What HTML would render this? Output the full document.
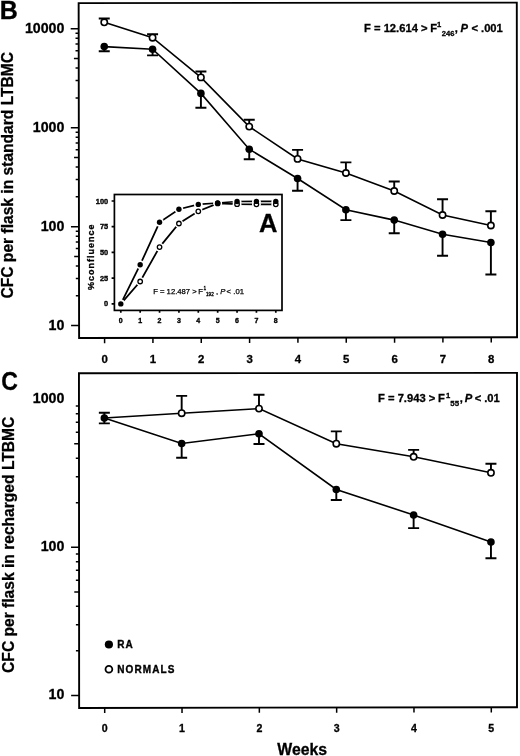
<!DOCTYPE html>
<html><head><meta charset="utf-8"><style>
html,body{margin:0;padding:0;background:#fff;}
svg{display:block;filter:grayscale(1) blur(0.3px);}
text{font-family:"Liberation Sans", sans-serif;fill:#000;stroke:#000;stroke-width:0.3px;}
</style></head><body>
<svg width="520" height="756" viewBox="0 0 520 756">
<rect width="520" height="756" fill="#fff"/>
<path d="M78.65 3.1L516.8 2.6L517.05 337.2L79.1 338.05Z" fill="none" stroke="#000" stroke-width="1.9" stroke-linejoin="miter"/>
<path d="M78.95 373.25L517.0 372.9L517.0 707.2L79.15 707.95Z" fill="none" stroke="#000" stroke-width="1.9" stroke-linejoin="miter"/>
<path d="M71.08 325.61H79.08 M75.84 295.82H79.04 M75.82 278.39H79.02 M75.80 266.02H79.00 M74.19 256.43H78.99 M75.78 248.60H78.98 M75.77 241.97H78.97 M75.76 236.23H78.96 M75.76 231.17H78.96 M70.95 226.64H78.95 M75.71 196.85H78.91 M75.69 179.42H78.89 M75.67 167.05H78.87 M74.06 157.46H78.86 M75.65 149.63H78.85 M75.64 143.00H78.84 M75.63 137.26H78.83 M75.62 132.20H78.82 M70.82 127.67H78.82 M75.58 97.88H78.78 M75.55 80.45H78.75 M75.54 68.08H78.74 M73.92 58.49H78.72 M75.51 50.66H78.71 M75.50 44.03H78.70 M75.50 38.29H78.70 M75.49 33.23H78.69 M70.68 28.70H78.68" stroke="#000" stroke-width="1.5" fill="none"/>
<path d="M71.14 695.40H79.14 M75.92 650.83H79.12 M75.90 624.76H79.10 M75.89 606.27H79.09 M74.28 591.92H79.08 M75.87 580.19H79.07 M75.87 570.28H79.07 M75.86 561.70H79.06 M75.86 554.12H79.06 M71.05 547.35H79.05 M75.83 502.78H79.03 M75.81 476.71H79.01 M75.80 458.22H79.00 M74.19 443.87H78.99 M75.79 432.14H78.99 M75.78 422.23H78.98 M75.77 413.65H78.97 M75.77 406.07H78.97" stroke="#000" stroke-width="1.5" fill="none"/>
<text x="64.4" y="32.65" font-size="14.2" font-weight="bold" text-anchor="end">10000</text>
<text x="64.4" y="131.62" font-size="14.2" font-weight="bold" text-anchor="end">1000</text>
<text x="64.4" y="230.59" font-size="14.2" font-weight="bold" text-anchor="end">100</text>
<text x="64.4" y="329.56" font-size="14.2" font-weight="bold" text-anchor="end">10</text>
<text x="64.4" y="403.25" font-size="14.2" font-weight="bold" text-anchor="end">1000</text>
<text x="64.4" y="551.30" font-size="14.2" font-weight="bold" text-anchor="end">100</text>
<text x="64.4" y="699.35" font-size="14.2" font-weight="bold" text-anchor="end">10</text>
<path d="M104.60 338.00V343.20 M152.93 337.91V343.11 M201.26 337.81V343.01 M249.59 337.72V342.92 M297.92 337.63V342.83 M346.25 337.53V342.73 M394.58 337.44V342.64 M442.91 337.34V342.54 M491.24 337.25V342.45 M104.70 707.91V713.11 M182.02 707.77V712.97 M259.34 707.64V712.84 M336.66 707.51V712.71 M413.98 707.38V712.58 M491.30 707.24V712.44" stroke="#000" stroke-width="1.5" fill="none"/>
<text x="104.60" y="362.7" font-size="11.4" font-weight="bold" text-anchor="middle">0</text>
<text x="152.93" y="362.7" font-size="11.4" font-weight="bold" text-anchor="middle">1</text>
<text x="201.26" y="362.7" font-size="11.4" font-weight="bold" text-anchor="middle">2</text>
<text x="249.59" y="362.7" font-size="11.4" font-weight="bold" text-anchor="middle">3</text>
<text x="297.92" y="362.7" font-size="11.4" font-weight="bold" text-anchor="middle">4</text>
<text x="346.25" y="362.7" font-size="11.4" font-weight="bold" text-anchor="middle">5</text>
<text x="394.58" y="362.7" font-size="11.4" font-weight="bold" text-anchor="middle">6</text>
<text x="442.91" y="362.7" font-size="11.4" font-weight="bold" text-anchor="middle">7</text>
<text x="491.24" y="362.7" font-size="11.4" font-weight="bold" text-anchor="middle">8</text>
<text x="104.70" y="731.8" font-size="10.6" font-weight="bold" text-anchor="middle">0</text>
<text x="182.02" y="731.8" font-size="10.6" font-weight="bold" text-anchor="middle">1</text>
<text x="259.34" y="731.8" font-size="10.6" font-weight="bold" text-anchor="middle">2</text>
<text x="336.66" y="731.8" font-size="10.6" font-weight="bold" text-anchor="middle">3</text>
<text x="413.98" y="731.8" font-size="10.6" font-weight="bold" text-anchor="middle">4</text>
<text x="491.30" y="731.8" font-size="10.6" font-weight="bold" text-anchor="middle">5</text>
<text x="302.2" y="754.6" font-size="15.8" font-weight="bold" text-anchor="middle">Weeks</text>
<text x="-0.27" y="18.60" font-size="25" font-weight="bold" xml:space="preserve">B</text>
<text transform="translate(2.2 389.6) scale(0.92 1.05)" x="-0.98" y="0" font-size="25" font-weight="bold">C</text>
<text transform="translate(13.4 175.2) rotate(-90)" font-size="15.6" font-weight="bold" text-anchor="middle">CFC per flask in standard LTBMC</text>
<text transform="translate(13.5 544.8) rotate(-90)" font-size="15.6" font-weight="bold" text-anchor="middle">CFC per flask in recharged LTBMC</text>
<text x="364.05" y="31.80" font-size="11.2" font-weight="bold" xml:space="preserve">F = 12.614 &gt;</text>
<text x="430.25" y="31.80" font-size="11.2" font-weight="bold" xml:space="preserve">F</text>
<text x="436.92" y="26.60" font-size="7.6" font-weight="bold" xml:space="preserve">1</text>
<text x="441.74" y="36.20" font-size="7.6" font-weight="bold" xml:space="preserve">246</text>
<text x="454.84" y="31.80" font-size="11.2" font-weight="bold" xml:space="preserve">,</text>
<text x="460.40" y="31.80" font-size="11.2" font-weight="bold" font-style="italic" xml:space="preserve">P</text>
<text x="471.53" y="31.80" font-size="11.2" font-weight="bold" xml:space="preserve">&lt;</text>
<text x="481.04" y="31.80" font-size="11.2" font-weight="bold" xml:space="preserve">.001</text>
<text x="378.05" y="401.80" font-size="11.2" font-weight="bold" xml:space="preserve">F = 7.943 &gt;</text>
<text x="438.05" y="401.80" font-size="11.2" font-weight="bold" xml:space="preserve">F</text>
<text x="446.12" y="398.00" font-size="7.6" font-weight="bold" xml:space="preserve">1</text>
<text x="450.26" y="406.20" font-size="7.9" font-weight="bold" xml:space="preserve">55</text>
<text x="459.64" y="401.80" font-size="11.2" font-weight="bold" xml:space="preserve">,</text>
<text x="464.80" y="401.80" font-size="11.2" font-weight="bold" font-style="italic" xml:space="preserve">P</text>
<text x="474.73" y="401.80" font-size="11.2" font-weight="bold" xml:space="preserve">&lt;</text>
<text x="484.14" y="401.80" font-size="11.2" font-weight="bold" xml:space="preserve">.01</text>
<path d="M104.25 22.30 L152.58 37.70 L200.91 77.40 L249.24 126.60 L297.57 158.90 L345.90 173.00 L394.23 191.00 L442.56 215.00 L490.89 225.50" stroke="#000" stroke-width="1.6" fill="none"/>
<path d="M104.25 22.30V18.50M98.75 18.50H109.75 M152.58 37.70V34.20M147.08 34.20H158.08 M200.91 77.40V71.50M195.41 71.50H206.41 M249.24 126.60V119.70M243.74 119.70H254.74 M297.57 158.90V149.90M292.07 149.90H303.07 M345.90 173.00V162.40M340.40 162.40H351.40 M394.23 191.00V181.50M388.73 181.50H399.73 M442.56 215.00V199.30M437.06 199.30H448.06 M490.89 225.50V211.30M485.39 211.30H496.39" stroke="#000" stroke-width="1.9" fill="none"/>
<path d="M104.25 46.60 L152.58 49.20 L200.91 93.40 L249.24 149.20 L297.57 178.50 L345.90 209.70 L394.23 220.10 L442.56 234.30 L490.89 242.50" stroke="#000" stroke-width="1.6" fill="none"/>
<path d="M104.25 46.60V51.20M98.75 51.20H109.75 M152.58 49.20V55.40M147.08 55.40H158.08 M200.91 93.40V107.70M195.41 107.70H206.41 M249.24 149.20V159.20M243.74 159.20H254.74 M297.57 178.50V190.80M292.07 190.80H303.07 M345.90 209.70V220.10M340.40 220.10H351.40 M394.23 220.10V233.30M388.73 233.30H399.73 M442.56 234.30V255.80M437.06 255.80H448.06 M490.89 242.50V274.50M485.39 274.50H496.39" stroke="#000" stroke-width="1.9" fill="none"/>
<circle cx="104.25" cy="22.30" r="3.15" fill="#fff" stroke="#000" stroke-width="1.6"/>
<circle cx="152.58" cy="37.70" r="3.15" fill="#fff" stroke="#000" stroke-width="1.6"/>
<circle cx="200.91" cy="77.40" r="3.15" fill="#fff" stroke="#000" stroke-width="1.6"/>
<circle cx="249.24" cy="126.60" r="3.15" fill="#fff" stroke="#000" stroke-width="1.6"/>
<circle cx="297.57" cy="158.90" r="3.15" fill="#fff" stroke="#000" stroke-width="1.6"/>
<circle cx="345.90" cy="173.00" r="3.15" fill="#fff" stroke="#000" stroke-width="1.6"/>
<circle cx="394.23" cy="191.00" r="3.15" fill="#fff" stroke="#000" stroke-width="1.6"/>
<circle cx="442.56" cy="215.00" r="3.15" fill="#fff" stroke="#000" stroke-width="1.6"/>
<circle cx="490.89" cy="225.50" r="3.15" fill="#fff" stroke="#000" stroke-width="1.6"/>
<circle cx="104.25" cy="46.60" r="3.8" fill="#000"/>
<circle cx="152.58" cy="49.20" r="3.8" fill="#000"/>
<circle cx="200.91" cy="93.40" r="3.8" fill="#000"/>
<circle cx="249.24" cy="149.20" r="3.8" fill="#000"/>
<circle cx="297.57" cy="178.50" r="3.8" fill="#000"/>
<circle cx="345.90" cy="209.70" r="3.8" fill="#000"/>
<circle cx="394.23" cy="220.10" r="3.8" fill="#000"/>
<circle cx="442.56" cy="234.30" r="3.8" fill="#000"/>
<circle cx="490.89" cy="242.50" r="3.8" fill="#000"/>
<path d="M104.35 418.00 L181.67 413.20 L258.99 408.60 L336.31 443.70 L413.63 456.80 L490.95 472.80" stroke="#000" stroke-width="1.6" fill="none"/>
<path d="M104.35 418.00V412.80M98.85 412.80H109.85 M181.67 413.20V395.90M176.17 395.90H187.17 M258.99 408.60V394.80M253.49 394.80H264.49 M336.31 443.70V431.40M330.81 431.40H341.81 M413.63 456.80V449.90M408.13 449.90H419.13 M490.95 472.80V463.80M485.45 463.80H496.45" stroke="#000" stroke-width="1.9" fill="none"/>
<path d="M104.35 418.10 L181.67 443.50 L258.99 433.80 L336.31 489.50 L413.63 515.00 L490.95 542.00" stroke="#000" stroke-width="1.6" fill="none"/>
<path d="M104.35 418.10V423.40M98.85 423.40H109.85 M181.67 443.50V457.80M176.17 457.80H187.17 M258.99 433.80V444.00M253.49 444.00H264.49 M336.31 489.50V500.00M330.81 500.00H341.81 M413.63 515.00V528.10M408.13 528.10H419.13 M490.95 542.00V558.30M485.45 558.30H496.45" stroke="#000" stroke-width="1.9" fill="none"/>
<circle cx="181.67" cy="413.20" r="3.15" fill="#fff" stroke="#000" stroke-width="1.6"/>
<circle cx="258.99" cy="408.60" r="3.15" fill="#fff" stroke="#000" stroke-width="1.6"/>
<circle cx="336.31" cy="443.70" r="3.15" fill="#fff" stroke="#000" stroke-width="1.6"/>
<circle cx="413.63" cy="456.80" r="3.15" fill="#fff" stroke="#000" stroke-width="1.6"/>
<circle cx="490.95" cy="472.80" r="3.15" fill="#fff" stroke="#000" stroke-width="1.6"/>
<circle cx="104.35" cy="418.10" r="3.8" fill="#000"/>
<circle cx="181.67" cy="443.50" r="3.8" fill="#000"/>
<circle cx="258.99" cy="433.80" r="3.8" fill="#000"/>
<circle cx="336.31" cy="489.50" r="3.8" fill="#000"/>
<circle cx="413.63" cy="515.00" r="3.8" fill="#000"/>
<circle cx="490.95" cy="542.00" r="3.8" fill="#000"/>
<circle cx="108.9" cy="644.5" r="4.1" fill="#000"/>
<circle cx="108.9" cy="669.3" r="3.4" fill="#fff" stroke="#000" stroke-width="1.8"/>
<text x="117.3" y="647.6" font-size="10" font-weight="bold" letter-spacing="1.1" style="stroke-width:0.35px">RA</text>
<text x="117.3" y="672.7" font-size="10" font-weight="bold" letter-spacing="1.1" style="stroke-width:0.35px">NORMALS</text>
<rect x="114.4" y="194.5" width="167.60" height="115.90" fill="#fff" stroke="#000" stroke-width="1.7"/>
<path d="M111.60 303.80H114.4 M111.60 278.10H114.4 M111.60 252.40H114.4 M111.60 226.70H114.4 M111.60 201.00H114.4 M120.80 310.4V312.79999999999995 M140.18 310.4V312.79999999999995 M159.55 310.4V312.79999999999995 M178.93 310.4V312.79999999999995 M198.30 310.4V312.79999999999995 M217.68 310.4V312.79999999999995 M237.05 310.4V312.79999999999995 M256.43 310.4V312.79999999999995 M275.80 310.4V312.79999999999995" stroke="#000" stroke-width="1.7" fill="none"/>
<text x="108.2" y="306.40" font-size="7.4" font-weight="bold" text-anchor="end" style="stroke-width:0.35px">0</text>
<text x="108.2" y="280.70" font-size="7.4" font-weight="bold" text-anchor="end" style="stroke-width:0.35px">25</text>
<text x="108.2" y="255.00" font-size="7.4" font-weight="bold" text-anchor="end" style="stroke-width:0.35px">50</text>
<text x="108.2" y="229.30" font-size="7.4" font-weight="bold" text-anchor="end" style="stroke-width:0.35px">75</text>
<text x="108.2" y="203.60" font-size="7.4" font-weight="bold" text-anchor="end" style="stroke-width:0.35px">100</text>
<text x="120.80" y="322.7" font-size="7" font-weight="bold" text-anchor="middle" style="stroke-width:0.35px">0</text>
<text x="140.18" y="322.7" font-size="7" font-weight="bold" text-anchor="middle" style="stroke-width:0.35px">1</text>
<text x="159.55" y="322.7" font-size="7" font-weight="bold" text-anchor="middle" style="stroke-width:0.35px">2</text>
<text x="178.93" y="322.7" font-size="7" font-weight="bold" text-anchor="middle" style="stroke-width:0.35px">3</text>
<text x="198.30" y="322.7" font-size="7" font-weight="bold" text-anchor="middle" style="stroke-width:0.35px">4</text>
<text x="217.68" y="322.7" font-size="7" font-weight="bold" text-anchor="middle" style="stroke-width:0.35px">5</text>
<text x="237.05" y="322.7" font-size="7" font-weight="bold" text-anchor="middle" style="stroke-width:0.35px">6</text>
<text x="256.43" y="322.7" font-size="7" font-weight="bold" text-anchor="middle" style="stroke-width:0.35px">7</text>
<text x="275.80" y="322.7" font-size="7" font-weight="bold" text-anchor="middle" style="stroke-width:0.35px">8</text>
<text transform="translate(94.2 256.8) rotate(-90)" font-size="9" font-weight="bold" letter-spacing="1" text-anchor="middle" style="stroke-width:0.3px">%confluence</text>
<text x="258.96" y="232.00" font-size="25.5" font-weight="bold" xml:space="preserve">A</text>
<text x="153.17" y="294.00" font-size="7.7" font-weight="normal" style="stroke-width:0.25px" xml:space="preserve">F = 12.487 &gt;</text>
<text x="198.37" y="294.00" font-size="7.7" font-weight="normal" style="stroke-width:0.25px" xml:space="preserve">F</text>
<text x="203.53" y="289.80" font-size="4.8" font-weight="normal" xml:space="preserve">1</text>
<text x="206.05" y="296.00" font-size="4.6" font-weight="normal" xml:space="preserve">192</text>
<text x="215.91" y="294.00" font-size="7.7" font-weight="normal" style="stroke-width:0.25px" xml:space="preserve">,</text>
<text x="220.26" y="294.00" font-size="7.7" font-weight="normal" font-style="italic" style="stroke-width:0.25px" xml:space="preserve">P</text>
<text x="226.62" y="294.00" font-size="7.7" font-weight="normal" style="stroke-width:0.25px" xml:space="preserve">&lt;</text>
<text x="233.30" y="294.00" font-size="7.7" font-weight="normal" style="stroke-width:0.25px" xml:space="preserve">.01</text>
<path d="M120.80 303.90 L140.18 281.50 L159.55 247.10 L178.93 223.50 L198.30 211.30 L217.68 203.40 L237.05 204.20 L256.43 204.30 L275.80 204.30" stroke="#000" stroke-width="1.75" fill="none"/>
<path d="M120.80 303.90 L140.18 264.70 L159.55 222.30 L178.93 209.20 L198.30 204.40 L217.68 203.00 L237.05 201.50 L256.43 201.40 L275.80 201.40" stroke="#000" stroke-width="1.75" fill="none"/>
<circle cx="120.80" cy="303.90" r="4.4" fill="#fff"/>
<circle cx="140.18" cy="281.50" r="4.4" fill="#fff"/>
<circle cx="159.55" cy="247.10" r="4.4" fill="#fff"/>
<circle cx="178.93" cy="223.50" r="4.4" fill="#fff"/>
<circle cx="198.30" cy="211.30" r="4.4" fill="#fff"/>
<circle cx="217.68" cy="203.40" r="4.4" fill="#fff"/>
<circle cx="237.05" cy="204.20" r="4.4" fill="#fff"/>
<circle cx="256.43" cy="204.30" r="4.4" fill="#fff"/>
<circle cx="275.80" cy="204.30" r="4.4" fill="#fff"/>
<circle cx="120.80" cy="303.90" r="4.4" fill="#fff"/>
<circle cx="140.18" cy="264.70" r="4.4" fill="#fff"/>
<circle cx="159.55" cy="222.30" r="4.4" fill="#fff"/>
<circle cx="178.93" cy="209.20" r="4.4" fill="#fff"/>
<circle cx="198.30" cy="204.40" r="4.4" fill="#fff"/>
<circle cx="217.68" cy="203.00" r="4.4" fill="#fff"/>
<circle cx="237.05" cy="201.50" r="4.4" fill="#fff"/>
<circle cx="256.43" cy="201.40" r="4.4" fill="#fff"/>
<circle cx="275.80" cy="201.40" r="4.4" fill="#fff"/>
<circle cx="140.18" cy="281.50" r="2.25" fill="#fff" stroke="#000" stroke-width="1.3"/>
<circle cx="159.55" cy="247.10" r="2.25" fill="#fff" stroke="#000" stroke-width="1.3"/>
<circle cx="178.93" cy="223.50" r="2.25" fill="#fff" stroke="#000" stroke-width="1.3"/>
<circle cx="198.30" cy="211.30" r="2.25" fill="#fff" stroke="#000" stroke-width="1.3"/>
<circle cx="217.68" cy="203.40" r="2.25" fill="#fff" stroke="#000" stroke-width="1.3"/>
<circle cx="237.05" cy="204.20" r="2.25" fill="#fff" stroke="#000" stroke-width="1.3"/>
<circle cx="256.43" cy="204.30" r="2.25" fill="#fff" stroke="#000" stroke-width="1.3"/>
<circle cx="275.80" cy="204.30" r="2.25" fill="#fff" stroke="#000" stroke-width="1.3"/>
<circle cx="120.80" cy="303.90" r="2.7" fill="#000"/>
<circle cx="140.18" cy="264.70" r="2.7" fill="#000"/>
<circle cx="159.55" cy="222.30" r="2.7" fill="#000"/>
<circle cx="178.93" cy="209.20" r="2.7" fill="#000"/>
<circle cx="198.30" cy="204.40" r="2.7" fill="#000"/>
<circle cx="217.68" cy="203.00" r="2.7" fill="#000"/>
<circle cx="237.05" cy="201.50" r="2.7" fill="#000"/>
<circle cx="256.43" cy="201.40" r="2.7" fill="#000"/>
<circle cx="275.80" cy="201.40" r="2.7" fill="#000"/>
</svg>
</body></html>
